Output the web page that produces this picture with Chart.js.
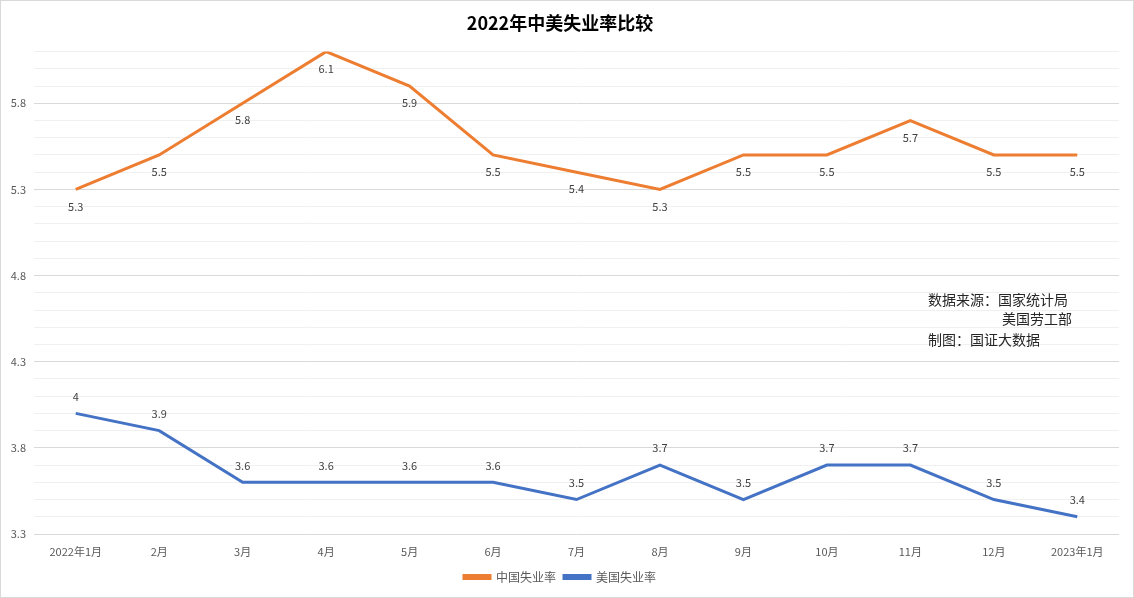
<!DOCTYPE html>
<html>
<head>
<meta charset="utf-8">
<script src="https://cdn.jsdelivr.net/npm/chart.js@4"></script>
<style>
  html, body { margin: 0; padding: 0; background: #fff; }
  #wrap { width: 1134px; height: 598px; position: relative; box-sizing: border-box; border: 1px solid #d9d9d9; }
</style>
</head>
<body>
<div id="wrap"><canvas id="chart"></canvas></div>
<script>
var months = ["2022年1月", "2月", "3月", "4月", "5月", "6月", "7月", "8月", "9月", "10月", "11月", "12月", "2023年1月"];
var chinaRate = [5.3, 5.5, 5.8, 6.1, 5.9, 5.5, 5.4, 5.3, 5.5, 5.5, 5.7, 5.5, 5.5];
var usRate = [4.0, 3.9, 3.6, 3.6, 3.6, 3.6, 3.5, 3.7, 3.5, 3.7, 3.7, 3.5, 3.4];
var sourceNote = ["数据来源：国家统计局", "美国劳工部", "制图：国证大数据"];

var FONT = '"Noto Sans CJK SC", "Noto Sans", sans-serif';

// value labels, orange below the line, blue above it
var pointLabels = {
    id: "pointLabels",
    afterDatasetsDraw: function (chart) {
        var ctx = chart.ctx;
        ctx.save();
        ctx.font = "11px " + FONT;
        ctx.fillStyle = "#404040";
        ctx.textAlign = "center";
        ctx.textBaseline = "middle";
        chart.data.datasets.forEach(function (ds, i) {
            var meta = chart.getDatasetMeta(i);
            var dy = i === 0 ? 17 : -17;
            meta.data.forEach(function (pt, j) {
                ctx.fillText(String(ds.data[j]), pt.x, pt.y + dy);
            });
        });
        ctx.restore();
    }
};

var notePlugin = {
    id: "notePlugin",
    afterDraw: function (chart) {
        var ctx = chart.ctx;
        ctx.save();
        ctx.font = "14px " + FONT;
        ctx.fillStyle = "#262626";
        ctx.textBaseline = "middle";
        ctx.fillText(sourceNote[0], 927, 299);
        ctx.fillText(sourceNote[1], 1001, 318);
        ctx.fillText(sourceNote[2], 927, 339);
        ctx.restore();
    }
};

function isMajor(v) {
    var k = (v - 3.3) / 0.5;
    return Math.abs(k - Math.round(k)) < 1e-6;
}

var chart = new Chart(document.getElementById("chart"), {
    type: "line",
    data: {
        labels: months,
        datasets: [{
            label: "中国失业率",
            data: chinaRate,
            borderColor: "#ED7D31",
            backgroundColor: "#ED7D31",
            borderWidth: 3,
            pointRadius: 0,
            tension: 0
        }, {
            label: "美国失业率",
            data: usRate,
            borderColor: "#4472C4",
            backgroundColor: "#4472C4",
            borderWidth: 3,
            pointRadius: 0,
            tension: 0
        }]
    },
    options: {
        responsive: true,
        maintainAspectRatio: false,
        animation: false,
        layout: { padding: { left: 0, right: 14, top: 9, bottom: 4 } },
        plugins: {
            title: {
                display: true,
                text: "2022年中美失业率比较",
                color: "#000",
                font: { family: FONT, size: 18, weight: "bold" },
                padding: { top: 2, bottom: 18 }
            },
            legend: {
                position: "bottom",
                labels: {
                    color: "#595959",
                    font: { family: FONT, size: 12 },
                    boxWidth: 26,
                    boxHeight: 3,
                    padding: 8
                }
            },
            tooltip: { enabled: false }
        },
        scales: {
            x: {
                offset: true,
                afterFit: function (scale) { scale.height = 29; },
                grid: { display: false },
                border: { display: false },
                ticks: { color: "#595959", font: { family: FONT, size: 11 }, maxRotation: 0, autoSkip: false, padding: 3 }
            },
            y: {
                min: 3.3,
                max: 6.1,
                afterFit: function (scale) { scale.width = 33; },
                border: { display: false },
                grid: {
                    drawTicks: false,
                    color: function (c) { return isMajor(c.tick.value) ? "#d9d9d9" : "#f0f0f0"; }
                },
                ticks: {
                    stepSize: 0.1,
                    autoSkip: false,
                    color: "#595959",
                    font: { family: FONT, size: 11 },
                    padding: 8,
                    callback: function (v) { return isMajor(v) ? v.toFixed(1) : ""; }
                }
            }
        }
    },
    plugins: [pointLabels, notePlugin]
});
</script>
</body>
</html>
